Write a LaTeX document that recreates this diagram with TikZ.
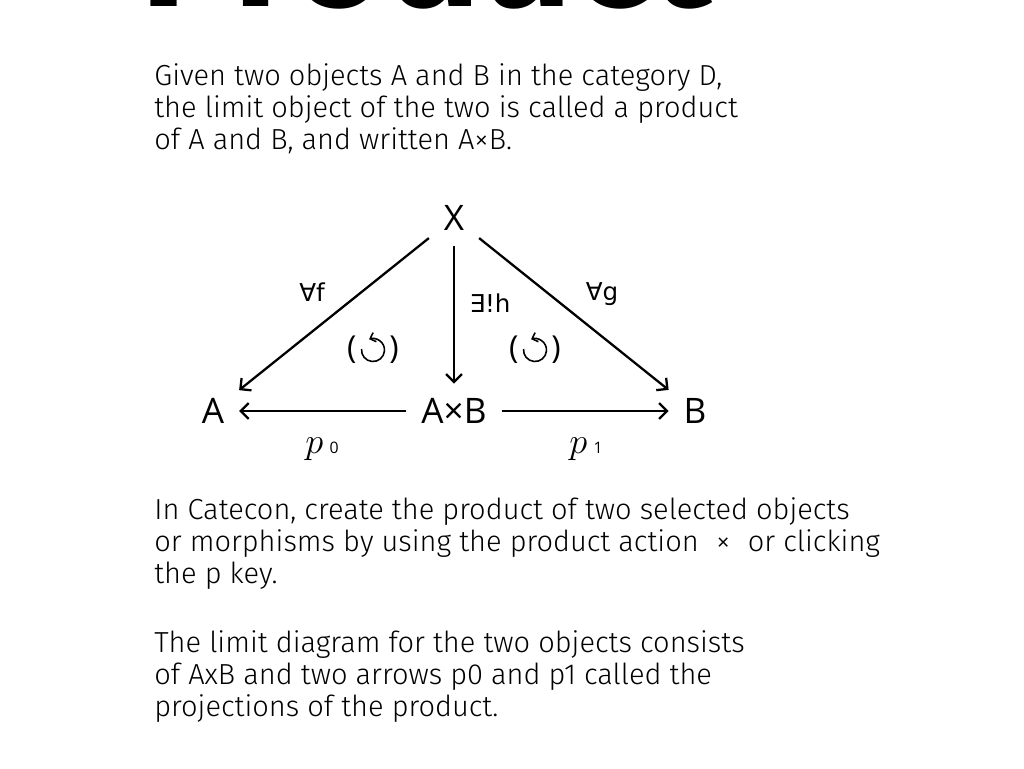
\documentclass[tikz,border=0pt]{standalone}
\usepackage{fontspec}
\setmainfont{Fira Sans}[UprightFont=* Light, BoldFont=* Bold]
\newfontfamily\diagfont{Open Sans}
\newfontfamily\symfont{DejaVu Sans}
\usetikzlibrary{arrows.meta}

\tikzset{
  obj/.style={font=\diagfont\fontsize{20}{24}\selectfont, inner sep=0pt, outer sep=0.3cm, text height=0.5cm, text depth=0pt},
  mor/.style={-{Straight Barb[length=4.5pt,width=9pt]}, line width=1.3pt},
  lbl/.style={font=\symfont\fontsize{14}{16}\selectfont},
  comm/.style={font=\diagfont\fontsize{18}{20}\selectfont, inner sep=0pt},
  commarc/.style={-{Straight Barb[length=2.8pt,width=5.5pt]}, line width=0.9pt},
  proj/.style={font=\fontsize{21}{24}\selectfont, inner sep=0pt},
  para/.style={anchor=north west, inner sep=0pt, align=left, font=\fontsize{16.5}{18.2}\selectfont},
}

\begin{document}
\begin{tikzpicture}[x=0.02cm, y=-0.02cm]
  \useasboundingbox[fill=white] (0,0) rectangle (1024,768);
  % title, mostly above the page
  \node[anchor=base west, inner sep=0pt, font=\bfseries\fontsize{91}{96}\selectfont] (title) at (140,6) {Product};

  \node[para] (intro) at (154,63) {Given two objects A and B in the category D,\\
    the limit object of the two is called a product\\
    of A and B, and written A×B.};

  % the diagram
  \node[obj] (X) at (454,218) {X};
  \node[obj] (A) at (213,411) {A};
  \node[obj] (AB) at (454,411) {A×B};
  \node[obj] (B) at (695,411) {B};
  \draw[mor] (X) -- (A);
  \draw[mor] (X) -- (AB);
  \draw[mor] (X) -- (B);
  \draw[mor] (AB) -- (A);
  \draw[mor] (AB) -- (B);
  \node[lbl] (f) at (312,292) {∀f};
  \node[lbl] (h) at (490,303) {∃!h};
  \node[lbl] (g) at (602,294) {∀g};
  % commuting triangles
  \node[comm] (cl) at (373,350) {(\hspace{0.66cm})};
  \node[comm] (cr) at (535,350) {(\hspace{0.66cm})};
  \foreach \c in {cl,cr}
    \draw[commarc] ([shift={(175:0.23cm)}]\c.center) arc[start angle=175, end angle=470, radius=0.23cm];
  \node[proj] (p0) at (322,449) {$p$\,{\diagfont\fontsize{9}{10}\selectfont 0}};
  \node[proj] (p1) at (586,449) {$p$\,{\diagfont\fontsize{9}{10}\selectfont 1}};

  \node[para] (howto) at (154,497) {In Catecon, create the product of two selected objects\\
    or morphisms by using the product action\hspace{0.6em}×\hspace{0.6em}or clicking\\
    the p key.};
  \node[para] (limit) at (154,630) {The limit diagram for the two objects consists\\
    of AxB and two arrows p0 and p1 called the\\
    projections of the product.};
\end{tikzpicture}
\end{document}
